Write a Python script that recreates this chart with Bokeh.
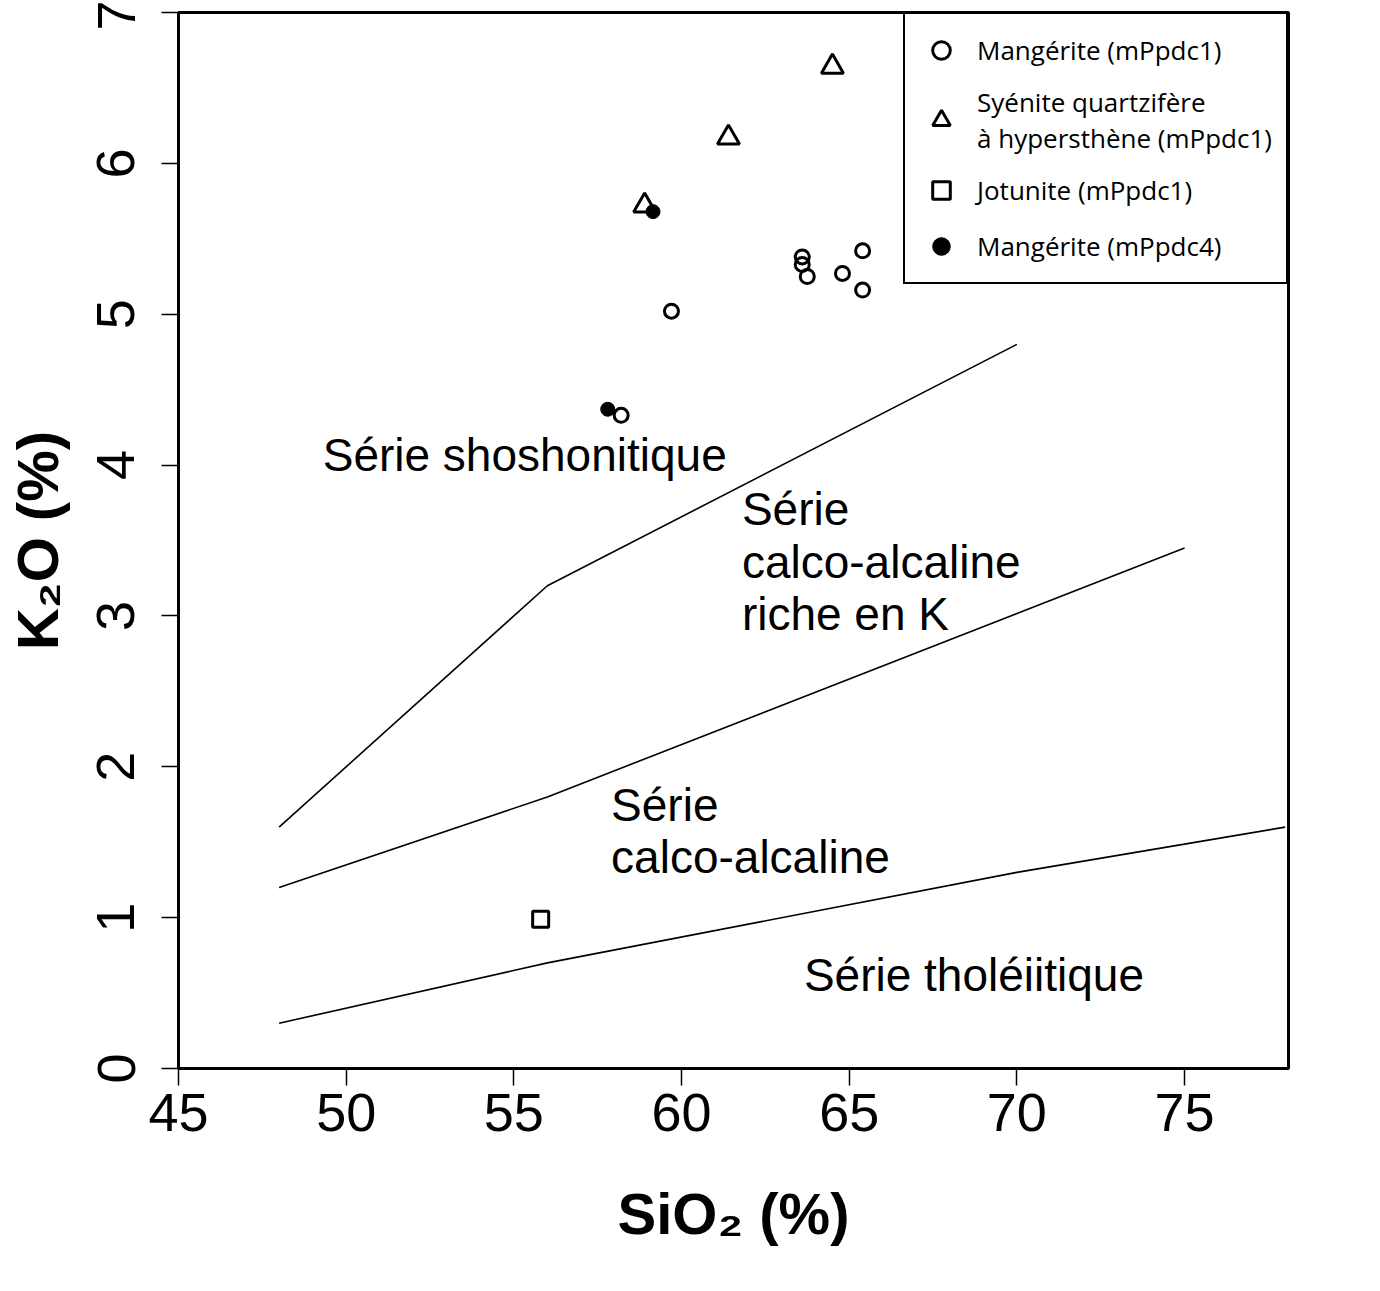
from bokeh.plotting import figure
from bokeh.models import Range1d, Legend, LegendItem, FixedTicker
from bokeh.core.properties import value
from bokeh.embed import file_html
from bokeh.resources import INLINE

# ---- data (SiO2 %, K2O %) ----
mang1_sio2 = [59.7, 58.2, 63.6, 63.6, 63.75, 64.8, 65.4, 65.4]
mang1_k2o = [5.02, 4.33, 5.38, 5.33, 5.25, 5.27, 5.42, 5.16]
sye_sio2 = [58.9, 61.4, 64.5]
sye_k2o = [5.72, 6.17, 6.64]
jot_sio2 = [55.8]
jot_k2o = [0.99]
mang4_sio2 = [57.8, 59.15]
mang4_k2o = [4.37, 5.68]

# series boundaries
b1_x = [48, 56, 70]
b1_y = [1.6, 3.2, 4.8]
b2_x = [48, 56, 75]
b2_y = [1.2, 1.8, 3.45]
b3_x = [48, 56, 70, 78]
b3_y = [0.3, 0.7, 1.3, 1.6]

# field labels
field_text = ["Série shoshonitique", "Série", "calco-alcaline", "riche en K",
              "Série", "calco-alcaline", "Série tholéiitique"]
field_x = [49.3, 61.8, 61.8, 61.8, 57.9, 57.9, 63.65]
field_y = [4.07, 3.71, 3.36, 3.01, 1.75, 1.40, 0.62]

x_ticks = [45, 50, 55, 60, 65, 70, 75]
y_ticks = [0, 1, 2, 3, 4, 5, 6, 7]

p = figure(output_backend="svg", toolbar_location=None,
           frame_width=1110, frame_height=1056,
           x_range=Range1d(45, 78.1), y_range=Range1d(0, 7),
           min_border_left=178, min_border_top=12, min_border_right=10,
           min_border_bottom=150)
p.background_fill_color = "white"
p.border_fill_color = "white"
p.grid.visible = False
p.outline_line_color = "black"
p.outline_line_width = 3

for ax in (p.xaxis[0], p.yaxis[0]):
    ax.axis_line_color = None
    ax.major_tick_out = 17
    ax.major_tick_in = 0
    ax.major_tick_line_width = 1.5
    ax.major_tick_line_color = "black"
    ax.minor_tick_line_color = None
    ax.major_label_text_font = "Liberation Sans"
    ax.major_label_text_font_size = "54px"
    ax.major_label_text_color = "black"
    ax.axis_label_text_font = "Liberation Sans"
    ax.axis_label_text_font_size = "58px"
    ax.axis_label_text_font_style = "bold"
    ax.axis_label_text_color = "black"

p.xaxis.ticker = FixedTicker(ticks=x_ticks)
p.yaxis.ticker = FixedTicker(ticks=y_ticks)
p.xaxis.major_label_standoff = 8
p.yaxis.major_label_standoff = 27
p.yaxis.major_label_orientation = "vertical"
p.xaxis.axis_label = "SiO₂ (%)"
p.yaxis.axis_label = "K₂O (%)"
p.xaxis.axis_label_standoff = 47
p.yaxis.axis_label_standoff = 25

# boundaries
for bx, by in ((b1_x, b1_y), (b2_x, b2_y), (b3_x, b3_y)):
    p.line(bx, by, line_color="black", line_width=1.6)

# field labels
p.text(x=field_x, y=field_y, text=field_text,
       text_font=value("Liberation Sans"), text_font_size="46px",
       text_color="black", text_align="left", text_baseline="alphabetic")

# points
r1 = p.scatter(mang1_sio2, mang1_k2o, marker="circle", size=14,
               fill_color=None, line_color="black", line_width=3)
r2 = p.scatter(sye_sio2, sye_k2o, marker="triangle", size=22,
               fill_color=None, line_color="black", line_width=3)
r3 = p.scatter(jot_sio2, jot_k2o, marker="square", size=16,
               fill_color=None, line_color="black", line_width=3)
r4 = p.scatter(mang4_sio2, mang4_k2o, marker="circle", size=14,
               fill_color="black", line_color="black", line_width=1)

legend = Legend(items=[
    LegendItem(label="Mangérite (mPpdc1)", renderers=[r1]),
    LegendItem(label="Syénite quartzifère\nà hypersthène (mPpdc1)", renderers=[r2]),
    LegendItem(label="Jotunite (mPpdc1)", renderers=[r3]),
    LegendItem(label="Mangérite (mPpdc4)", renderers=[r4]),
], location="top_right")
legend.margin = 0
legend.padding = 14
legend.spacing = 12
legend.glyph_width = 44
legend.glyph_height = 44
legend.label_standoff = 14
legend.label_text_font = "Open Sans"
legend.label_text_font_size = "26px"
legend.label_text_color = "black"
legend.label_text_line_height = 1.25
legend.border_line_color = "black"
legend.border_line_alpha = 1.0
legend.border_line_width = 2
legend.background_fill_color = "white"
legend.background_fill_alpha = 1
p.add_layout(legend, "center")

open("out.html", "w").write(file_html(p, INLINE))
